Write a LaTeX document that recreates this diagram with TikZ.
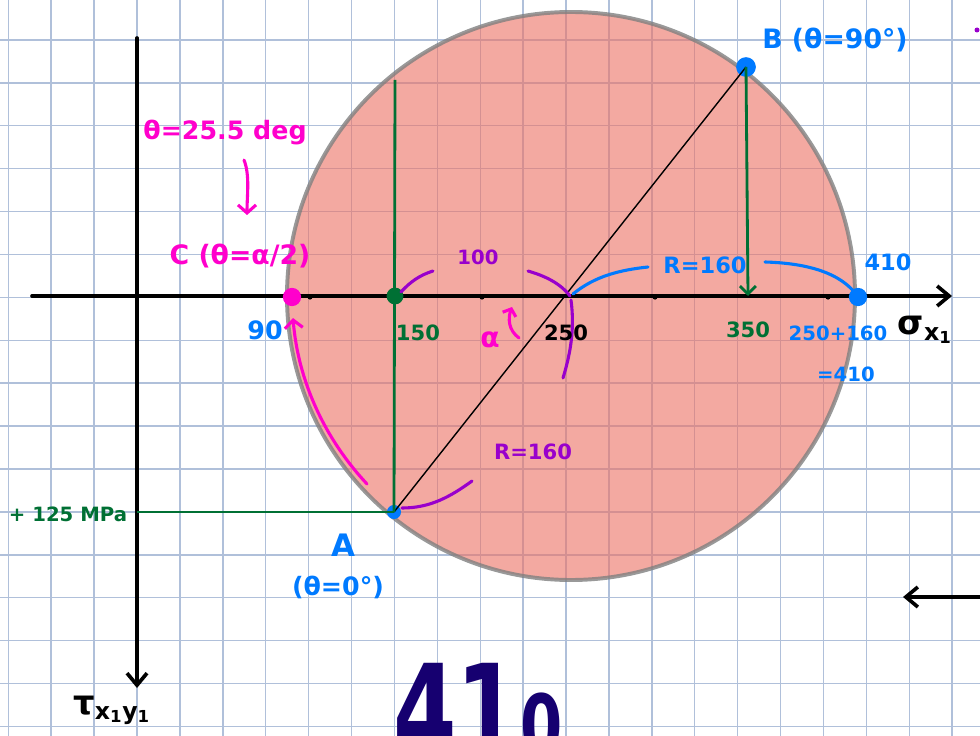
\documentclass[tikz,border=0pt]{standalone}
\usepackage{fontspec}
\setmainfont{DejaVu Sans}
\usetikzlibrary{arrows.meta}

\definecolor{gridblue}{RGB}{176,192,218}
\definecolor{salmon}{RGB}{236,112,99}
\definecolor{rimgray}{RGB}{128,128,128}
\definecolor{inkgreen}{RGB}{0,112,52}
\definecolor{inkblue}{RGB}{0,122,255}
\definecolor{inkpink}{RGB}{255,0,204}
\definecolor{inkpurple}{RGB}{153,0,204}
\definecolor{inknavy}{RGB}{22,0,112}

\begin{document}
\begin{tikzpicture}[
    x=0.25mm, y=-0.25mm,
    >={Straight Barb[length=3mm, width=5mm]},
    axis/.style={line width=2.6pt, line cap=round},
    pen/.style={line width=2.2pt, line cap=round},
    dot/.style={circle, fill, inner sep=0pt, minimum size=#1},
    lbl/.style={inner sep=0pt, font=\fontsize{#1}{#1}\selectfont\bfseries},
    lbl/.default=17
  ]
  \clip (0,0) rectangle (980,736);
  \fill[white] (0,0) rectangle (980,736);

  % Grid paper
  \foreach \k in {0,...,22}
    \draw[gridblue, line width=1pt] (8.3+42.9*\k, 0) -- (8.3+42.9*\k, 736);
  \foreach \k in {0,...,16}
    \draw[gridblue, line width=1pt] (0, 40+42.9*\k) -- (980, 40+42.9*\k);

  % Mohr circle
  \coordinate (M) at (571,296);
  \fill[salmon, fill opacity=0.6] (M) circle[radius=284];
  \draw[rimgray, opacity=0.8, line width=2.8pt] (M) circle[radius=284];

  % Axes
  \coordinate (xs) at (32,296);
  \coordinate (xe) at (952,296);
  \coordinate (ys) at (137,38);
  \coordinate (ye) at (137,688);
  \draw[axis, ->] (xs) -- (xe);
  \draw[axis, ->] (ys) -- (ye);
  \foreach \t in {310, 482, 655, 828}
    \fill (\t,297) circle[radius=2.6];

  % Points
  \node[dot=10pt, inkblue] (A) at (394,512) {};
  \node[dot=14pt, inkblue] (B) at (746,67) {};
  \node[dot=13pt, inkpink] (C) at (292,297) {};
  \node[dot=12pt, inkgreen] (P150) at (395,296) {};
  \node[dot=13pt, inkblue] (P410) at (858,297) {};
  \coordinate (gtop) at (395,80);
  \coordinate (tA) at (137,512);
  \coordinate (B350) at (748,296);

  % Construction lines
  \draw[line width=1pt] (A.center) -- (B.center);
  \draw[inkgreen, line width=2pt] (A.center) -- (gtop);
  \draw[inkgreen, line width=2pt] (tA) -- (A.center);
  \draw[inkgreen, line width=2pt, -{Straight Barb[length=2mm, width=4mm]}]
    (B.center) -- (B350);

  % Purple arcs
  \coordinate (pa1) at (402,508);
  \coordinate (pa2) at (472,481);
  \coordinate (pb1) at (401,292);
  \coordinate (pb2) at (433,271);
  \coordinate (pc1) at (528,271);
  \coordinate (pc2) at (570,296);
  \coordinate (pd1) at (571,300);
  \coordinate (pd2) at (563,378);
  \draw[pen, inkpurple] (pa1) .. controls (430,508) and (450,497) .. (pa2);
  \draw[pen, inkpurple] (pb1) .. controls (410,282) and (420,275) .. (pb2);
  \draw[pen, inkpurple] (pc1) .. controls (545,276) and (560,283) .. (pc2);
  \draw[pen, inkpurple] (pd1) .. controls (575,330) and (570,355) .. (pd2);

  % Blue arcs
  \coordinate (ba1) at (573,294);
  \coordinate (ba2) at (648,267);
  \coordinate (bb1) at (765,262);
  \draw[pen, inkblue] (ba1) .. controls (595,276) and (620,270) .. (ba2);
  \draw[pen, inkblue] (bb1) .. controls (800,263) and (840,270) .. (P410.center);

  % Pink arrows
  \coordinate (ma1) at (367,484);
  \coordinate (ma2) at (293,318);
  \coordinate (mt1) at (244,160);
  \coordinate (mt2) at (247,215);
  \coordinate (ms1) at (519,338);
  \coordinate (ms2) at (512,307);
  \draw[pen, inkpink, -{Straight Barb[length=2mm, width=4.5mm]}]
    (ma1) .. controls (324,438) and (298,380) .. (ma2);
  \draw[pen, inkpink, -{Straight Barb[length=2mm, width=4.5mm]}]
    (mt1) .. controls (250,175) and (247,195) .. (mt2);
  \draw[pen, inkpink, -{Straight Barb[length=1.5mm, width=3.5mm]}]
    (ms1) .. controls (508,330) and (508,318) .. (ms2);

  % Stray arrow and mark
  \coordinate (ar1) at (990,597);
  \coordinate (ar2) at (903,597);
  \draw[axis, ->] (ar1) -- (ar2);
  \fill[inkpurple] (977,30) circle[radius=2.5];

  % Labels
  \node[lbl=18, inkpink] (tht) at (225,133) {θ=25.5 deg};
  \node[lbl=19, inkpink] (lC) at (240,256) {C (θ=α/2)};
  \node[lbl=18, inkblue] (l90) at (265,330) {90};
  \node[lbl=15, inkgreen] (l150) at (418,333) {150};
  \node[lbl=14, inkpurple] (l100) at (478,257) {100};
  \node[lbl=20, inkpink] (lal) at (490,340) {α};
  \node[lbl=15] (l250) at (566,333) {250};
  \node[lbl=16, inkblue] (lR) at (705,265) {R=160};
  \node[lbl=16, inkblue] (l410) at (888,262) {410};
  \node[lbl=15, inkgreen] (l350) at (748,330) {350};
  \node[lbl=14, inkblue] (lsum) at (838,333) {250+160};
  \node[lbl=14, inkblue] (leq) at (846,374) {=410};
  \node[lbl=24] (lsig) at (925,330) {σ\textsubscript{x\textsubscript{1}}};
  \node[lbl=19, inkblue] (lB) at (835,40) {B (θ=90°)};
  \node[lbl=14, inkgreen] (l125) at (68,514) {+ 125 MPa};
  \node[lbl=22, inkblue] (lA) at (343,545) {A};
  \node[lbl=18, inkblue] (lA0) at (338,587) {(θ=0°)};
  \node[lbl=15, inkpurple] (lRp) at (533,452) {R=160};
  \node[lbl=24] (ltau) at (112,710)
    {τ\textsubscript{x\textsubscript{1}y\textsubscript{1}}};
  \node[inknavy, font=\fontsize{90}{90}\selectfont\bfseries, inner sep=0pt,
        xscale=0.72, anchor=base] (big) at (478,755)
        {41{\fontsize{60}{60}\selectfont 0}};
\end{tikzpicture}
\end{document}
